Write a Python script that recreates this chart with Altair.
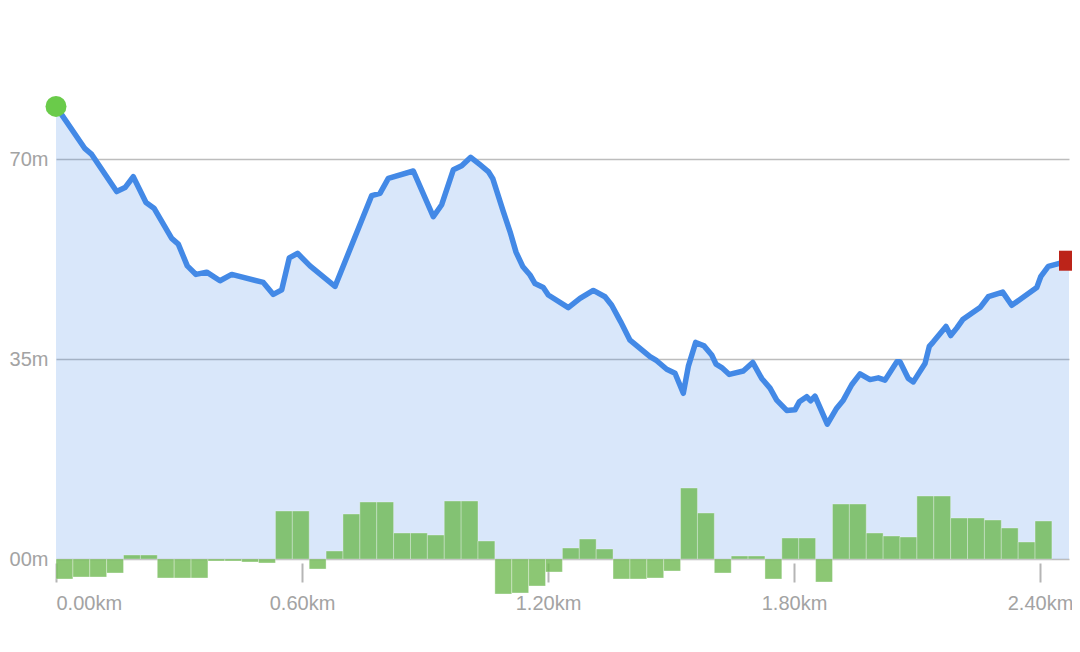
import altair as alt
import pandas as pd

# Elevation profile (distance in km, elevation in m)
DIST_KM = [0.000, 0.0707, 0.0871, 0.1480, 0.1683, 0.1885, 0.2195, 0.2390, 0.2822, 0.2983,
           0.3202, 0.3415, 0.3676, 0.4000, 0.4285, 0.5056, 0.5300, 0.5505, 0.5690, 0.5890,
           0.6195, 0.6805, 0.7700, 0.7902, 0.8105, 0.8715, 0.9202, 0.9407, 0.9690, 0.9895,
           1.0115, 1.0341, 1.0544, 1.0651, 1.0910, 1.1073, 1.1220, 1.1383, 1.1561, 1.1683,
           1.1885, 1.2007, 1.2495, 1.2780, 1.3105, 1.3390, 1.3554, 1.3773, 1.4000, 1.4488,
           1.4651, 1.4895, 1.5098, 1.5300, 1.5422, 1.5602, 1.5805, 1.5993, 1.6098, 1.6237,
           1.6422, 1.6763, 1.6993, 1.7212, 1.7415, 1.7578, 1.7822, 1.8024, 1.8129, 1.8310,
           1.8407, 1.8512, 1.8812, 1.9041, 1.9202, 1.9407, 1.9610, 1.9854, 2.0056, 2.0220,
           2.0505, 2.0585, 2.0788, 2.0910, 2.1195, 2.1300, 2.1398, 2.1707, 2.1822, 2.1968,
           2.2115, 2.2334, 2.2537, 2.2739, 2.3090, 2.3310, 2.3512, 2.3920, 2.4017, 2.4202,
           2.4407, 2.4707]
ELEV_M = [179.2, 171.8, 170.8, 164.3, 165.0, 166.9, 162.4, 161.4, 156.1, 155.1,
          151.3, 149.8, 150.2, 148.7, 149.8, 148.4, 146.3, 147.1, 152.7, 153.5,
          151.3, 147.7, 163.6, 164.0, 166.6, 167.9, 159.9, 162.0, 168.1, 168.8,
          170.3, 169.0, 167.8, 166.6, 160.8, 157.3, 153.7, 151.2, 149.7, 148.2,
          147.5, 146.2, 144.0, 145.6, 147.0, 145.9, 144.4, 141.5, 138.3, 135.4,
          134.7, 133.2, 132.5, 129.0, 133.7, 137.9, 137.3, 135.7, 134.1, 133.5,
          132.3, 132.9, 134.4, 131.6, 129.9, 127.8, 126.0, 126.1, 127.5, 128.4,
          127.7, 128.5, 123.6, 126.4, 127.8, 130.5, 132.4, 131.4, 131.7, 131.3,
          134.5, 134.5, 131.6, 131.0, 134.2, 137.2, 138.0, 140.7, 139.1, 140.4,
          141.9, 143.0, 144.0, 145.9, 146.7, 144.4, 145.4, 147.5, 149.4, 151.2,
          151.6, 152.2]

# Gradient per segment (%)
SEGMENT_KM = 0.04117
GRADE = [-2.0, -1.8, -1.8, -1.4, 0.4, 0.4, -1.9, -1.9, -1.9, -0.2,
         -0.2, -0.3, -0.4, 4.8, 4.8, -1.0, 0.8, 4.5, 5.7, 5.7,
         2.6, 2.6, 2.4, 5.8, 5.8, 1.8, -3.5, -3.4, -2.7, -1.3,
         1.1, 2.0, 1.0, -2.0, -2.0, -1.9, -1.2, 7.1, 4.6, -1.4,
         0.3, 0.3, -2.0, 2.1, 2.1, -2.3, 5.5, 5.5, 2.6, 2.3,
         2.2, 6.3, 6.3, 4.1, 4.1, 3.9, 3.1, 1.7, 3.8]

X_TICKS = [0.0, 0.6, 1.2, 1.8, 2.4]
Y_TICKS = [100, 135, 170]
Y_TICK_LABELS = ["00m", "35m", "70m"]

FONT = "Liberation Sans"
LINE_COLOR = "#4389e6"

profile = pd.DataFrame({"dist": DIST_KM, "elev": ELEV_M})
bars = pd.DataFrame({
    "start": [i * SEGMENT_KM for i in range(len(GRADE))],
    "end": [(i + 1) * SEGMENT_KM for i in range(len(GRADE))],
    "grade": GRADE,
})
start_pt = profile.iloc[[0]]
end_pt = profile.iloc[[-1]]

x_scale = alt.Scale(domain=[0, DIST_KM[-1]], nice=False, zero=False)
y_scale = alt.Scale(domain=[100, 196.425], nice=False, zero=False)

X_AXIS = alt.Axis(values=X_TICKS, labelExpr="format(datum.value, '.2f') + 'km'",
                  domain=False, grid=False, offset=4, tickSize=19, tickWidth=2,
                  tickColor="#b5b5b5", labelColor="#a3a3a3", labelFontSize=20,
                  labelFont=FONT, labelPadding=11, labelFlush=True, title=None)

label_expr = " : ".join(
    f"datum.value == {v} ? '{t}'" for v, t in zip(Y_TICKS, Y_TICK_LABELS)
) + " : ''"

area = alt.Chart(profile).mark_area(color=LINE_COLOR, opacity=0.2).encode(
    x=alt.X("dist:Q", scale=x_scale, axis=X_AXIS),
    y=alt.Y("elev:Q", scale=y_scale, title=None,
            axis=alt.Axis(values=Y_TICKS, labelExpr=label_expr, domain=False, ticks=False,
                          grid=True, gridColor="#bdbdbd", gridWidth=1.6,
                          labelColor="#a3a3a3", labelFontSize=20, labelFont=FONT,
                          labelPadding=8)),
    y2=alt.datum(100),
)

bar_layer = alt.Chart(bars).mark_rect(
    color="#6cb84e", opacity=0.78, stroke="#ffffff", strokeOpacity=0.35, strokeWidth=1
).encode(
    x=alt.X("start:Q", scale=x_scale, axis=X_AXIS),
    x2="end:Q",
    y=alt.Y("grade:Q", scale=alt.Scale(domain=[0, 55.1], nice=False, zero=False), axis=None),
    y2=alt.datum(0),
)

line = alt.Chart(profile).mark_line(
    color=LINE_COLOR, strokeWidth=5.5, strokeJoin="round", strokeCap="round"
).encode(
    x=alt.X("dist:Q", scale=x_scale, axis=X_AXIS),
    y=alt.Y("elev:Q", scale=y_scale, axis=None),
)

start_mark = alt.Chart(start_pt).mark_point(
    shape="circle", filled=True, size=440, color="#6acb4a", opacity=1
).encode(
    x=alt.X("dist:Q", scale=x_scale, axis=X_AXIS),
    y=alt.Y("elev:Q", scale=y_scale, axis=None),
)

end_mark = alt.Chart(end_pt).mark_point(
    shape="square", filled=True, size=400, color="#bc2419", opacity=1
).encode(
    x=alt.X("dist:Q", scale=x_scale, axis=X_AXIS),
    y=alt.Y("elev:Q", scale=y_scale, axis=None),
)

chart = alt.layer(area, bar_layer, line, start_mark, end_mark).resolve_scale(
    y="independent"
).properties(
    width=1013,
    height=551,
    autosize=alt.AutoSizeParams(type="none"),
    padding={"left": 48, "top": 0, "right": 3, "bottom": 80},
).configure_view(stroke=None)

chart.save("out.html", embed_options={"renderer": "svg", "actions": False})
